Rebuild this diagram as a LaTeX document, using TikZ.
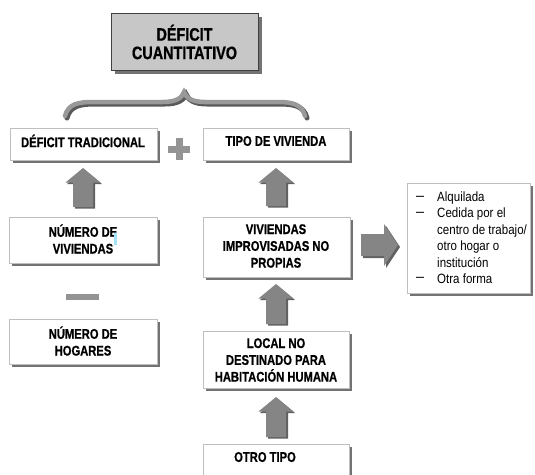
\documentclass[tikz,border=0pt]{standalone}
\usepackage{fontspec}
\setmainfont{Liberation Sans}[FakeStretch=0.8,BoldFeatures={FakeBold=0.8}]
\newfontfamily\listfont{Liberation Sans}[FakeStretch=0.86]
\newfontfamily\dashfont{Liberation Sans}
\begin{document}
\begin{tikzpicture}[x=1pt,y=-1pt,
  boxshadow/.style={fill=black!55,draw=none},
  whitebox/.style={fill=white,draw=black!25,line width=0.6pt},
  arrfill/.style={fill=black!48,draw=none},
  arrshadow/.style={fill=black!62,draw=none},
  lbl/.style={font=\bfseries\fontsize{14}{16.8}\selectfont,align=center,inner sep=0pt},
  lst/.style={font=\listfont\fontsize{13.4}{16}\selectfont,inner sep=0pt,anchor=west},
  dsh/.style={font=\dashfont\fontsize{14.5}{16}\selectfont,inner sep=0pt,anchor=west},
]
\path[use as bounding box] (0,0) rectangle (535,474);
\clip (0,0) rectangle (535,474);

% ---- top box
\fill[boxshadow] (115,17) rectangle (262,74);
\draw[fill=black!22,draw=black!75,line width=0.8pt] (111,13) rectangle (258,70);
\node[lbl,font=\bfseries\fontsize{18}{18.5}\selectfont] (top) at (184.5,42) {DÉFICIT\\CUANTITATIVO};

% ---- brace
\draw[black!65,line width=5pt,line cap=round] (67,118) .. controls (70,106) and (80,104) .. (95,104)
  -- (165,104) .. controls (178,104) and (184,100) .. (186,94)
  .. controls (188,100) and (194,104) .. (207,104) -- (279,104)
  .. controls (294,104) and (304,106) .. (307,118);
\draw[black!40,line width=4.5pt,line cap=round] (65,116) .. controls (68,104) and (78,102) .. (93,102)
  -- (163,102) .. controls (176,102) and (182,98) .. (184,92)
  .. controls (186,98) and (192,102) .. (205,102) -- (277,102)
  .. controls (292,102) and (302,104) .. (305,116);

% ---- macros for boxes
\newcommand\shbox[5]{% name, x1, y1, x2, y2
  \fill[boxshadow] ({#2+3},{#3+3}) rectangle ({#4+3},{#5+3});
  \draw[whitebox] (#2,#3) rectangle (#4,#5);
  \coordinate (#1) at ({(#2+#4)/2},{(#3+#5)/2});}
\newcommand\uparr[3]{% cx, ytop, ybottom
  \fill[arrshadow] ({#1-16},{#2+16}) -- ({#1+1.5},{#2+1.5}) -- ({#1+19},{#2+16}) -- ({#1+12},{#2+16}) -- ({#1+12},{#3+1.5}) -- ({#1-8},{#3+1.5}) -- ({#1-8},{#2+16}) -- cycle;
  \fill[arrfill] ({#1-17.5},{#2+14.5}) -- (#1,#2) -- ({#1+17.5},{#2+14.5}) -- ({#1+10},{#2+14.5}) -- ({#1+10},#3) -- ({#1-10},#3) -- ({#1-10},{#2+14.5}) -- cycle;}

% ---- boxes
\shbox{dt}{10}{128}{157}{160}
\node[lbl] (dtl) at (83,141) {DÉFICIT TRADICIONAL};
\shbox{tv}{203}{128}{349}{160}
\node[lbl] (tvl) at (276,141) {TIPO DE VIVIENDA};

\shbox{nv}{9}{217}{157}{263}
\node[lbl] (nvl) at (83,239) {NÚMERO DE\\VIVIENDAS};
\fill[cyan!35] (114,233) rectangle (117,245);

\shbox{nh}{9}{319}{157}{364}
\node[lbl] (nhl) at (83,341) {NÚMERO DE\\HOGARES};

\shbox{vi}{203}{217}{350}{277}
\node[lbl] (vil) at (276,246) {VIVIENDAS\\IMPROVISADAS NO\\PROPIAS};

\shbox{lo}{203}{331}{349}{388}
\node[lbl] (lol) at (276,360) {LOCAL NO\\DESTINADO PARA\\HABITACIÓN HUMANA};

\shbox{ot}{203}{444}{349}{490}
\node[lbl] (otl) at (265,457) {OTRO TIPO};

% ---- list box
\shbox{ls}{407}{183}{530}{293}
\node[dsh] (d1) at (416,198) {–};
\node[lst] (t1) at (437,198) {Alquilada};
\node[dsh] (d2) at (416,214) {–};
\node[lst] (t2) at (437,214) {Cedida por el};
\node[lst] (t3) at (437,231) {centro de trabajo/};
\node[lst] (t4) at (437,247) {otro hogar o};
\node[lst] (t5) at (437,263) {institución};
\node[dsh] (d6) at (416,279) {–};
\node[lst] (t6) at (437,279) {Otra forma};

% ---- plus and minus
\fill[black!42] (168,146) rectangle (190,153);
\fill[black!42] (175.5,138) rectangle (182.5,160);
\fill[black!42] (66,294) rectangle (99,300);

% ---- up arrows
\uparr{83}{168}{207}
\uparr{276}{168}{206}
\uparr{276}{284}{324}
\uparr{276}{397}{437}

% ---- right arrow
\fill[arrshadow] (363,236) -- (386,236) -- (386,226) -- (400,247) -- (386,268) -- (386,258) -- (363,258) -- cycle;
\fill[arrfill] (361,234) -- (384,234) -- (384,224) -- (398,245) -- (384,266) -- (384,256) -- (361,256) -- cycle;
\end{tikzpicture}
\end{document}
